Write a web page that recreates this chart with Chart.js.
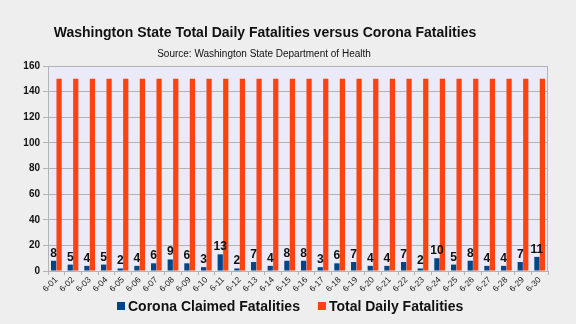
<!DOCTYPE html>
<html>
<head>
<meta charset="utf-8">
<script src="https://cdn.jsdelivr.net/npm/chart.js@4/dist/chart.umd.min.js"></script>
<style>
  html, body { margin: 0; padding: 0; background: #eeeeee; }
  #wrap { width: 576px; height: 324px; position: relative; }
</style>
</head>
<body>
<div id="wrap"><canvas id="c" width="576" height="324"></canvas></div>
<script>
// ===== Data =====
var days = ["6-01","6-02","6-03","6-04","6-05","6-06","6-07","6-08","6-09","6-10",
  "6-11","6-12","6-13","6-14","6-15","6-16","6-17","6-18","6-19","6-20",
  "6-21","6-22","6-23","6-24","6-25","6-26","6-27","6-28","6-29","6-30"];
var coronaDeaths = [8,5,4,5,2,4,6,9,6,3,13,2,7,4,8,8,3,6,7,4,4,7,2,10,5,8,4,4,7,11];
var totalDeaths = [150,150,150,150,150,150,150,150,150,150,150,150,150,150,150,
  150,150,150,150,150,150,150,150,150,150,150,150,150,150,150];

var titleText = "Washington State Total Daily Fatalities versus Corona Fatalities";
var subtitleText = "Source: Washington State Department of Health";
var seriesNames = ["Corona Claimed Fatalities", "Total Daily Fatalities"];
var seriesColors = ["#004586", "#ff420e"];

var FONT = "'Liberation Sans', Arial, sans-serif";
var GRID = "#b3b3b3";

// plot area background + frame
var plotBg = {
  id: "plotBg",
  beforeDraw: function(chart) {
    var a = chart.chartArea, ctx = chart.ctx;
    ctx.save();
    ctx.fillStyle = "#eaeaf8";
    ctx.fillRect(a.left, a.top, a.right - a.left, a.bottom - a.top);
    ctx.restore();
  },
  afterDraw: function(chart) {
    var a = chart.chartArea, ctx = chart.ctx;
    ctx.save();
    ctx.strokeStyle = GRID;
    ctx.lineWidth = 1;
    ctx.strokeRect(a.left + 0.5, a.top + 0.5, a.right - a.left - 1, a.bottom - a.top);
    ctx.restore();
  }
};

// value labels above the corona bars
var valueLabels = {
  id: "valueLabels",
  afterDatasetsDraw: function(chart) {
    var ctx = chart.ctx;
    var meta = chart.getDatasetMeta(0);
    ctx.save();
    ctx.font = "bold 12px " + FONT;
    ctx.fillStyle = "#111111";
    ctx.textAlign = "center";
    ctx.textBaseline = "alphabetic";
    meta.data.forEach(function(bar, i) {
      ctx.fillText(String(coronaDeaths[i]), bar.x, bar.y - 4);
    });
    ctx.restore();
  }
};

// titles and legend, placed like the original (title is left of centre)
var headerLegend = {
  id: "headerLegend",
  afterDraw: function(chart) {
    var ctx = chart.ctx;
    ctx.save();
    ctx.fillStyle = "#111111";
    ctx.textAlign = "center";
    ctx.textBaseline = "middle";
    ctx.font = "bold 14px " + FONT;
    ctx.fillText(titleText, 265, 33);
    ctx.font = "10px " + FONT;
    ctx.fillText(subtitleText, 264, 54);

    ctx.font = "bold 14px " + FONT;
    ctx.textAlign = "left";
    var x = 117, y = 306;
    for (var i = 0; i < seriesNames.length; i++) {
      ctx.fillStyle = seriesColors[i];
      ctx.fillRect(x, y - 4, 8, 8);
      ctx.fillStyle = "#111111";
      ctx.fillText(seriesNames[i], x + 11, y + 1);
      x += 11 + ctx.measureText(seriesNames[i]).width + 18;
    }
    ctx.restore();
  }
};

new Chart(document.getElementById("c"), {
  type: "bar",
  data: {
    labels: days,
    datasets: [
      { label: seriesNames[0], data: coronaDeaths, backgroundColor: seriesColors[0],
        categoryPercentage: 0.66, barPercentage: 0.95 },
      { label: seriesNames[1], data: totalDeaths, backgroundColor: seriesColors[1],
        categoryPercentage: 0.66, barPercentage: 0.95 }
    ]
  },
  options: {
    responsive: false,
    animation: false,
    layout: { padding: { top: 66, right: 28, bottom: 33, left: 0 } },
    scales: {
      x: {
        afterFit: function(scale) { scale.height = 20; },
        grid: { display: true, drawOnChartArea: false, color: GRID, tickLength: 4 },
        border: { color: GRID },
        ticks: {
          color: "#222222",
          font: { size: 8.5, family: FONT },
          autoSkip: false,
          maxRotation: 45, minRotation: 45,
          padding: 0
        }
      },
      y: {
        min: 0, max: 160,
        afterFit: function(scale) { scale.width = 48; },
        ticks: {
          stepSize: 20,
          color: "#111111",
          font: { size: 10, weight: "bold", family: FONT },
          padding: 3
        },
        grid: { color: GRID, drawTicks: true, tickLength: 5 },
        border: { color: GRID }
      }
    },
    plugins: {
      title: { display: false },
      legend: { display: false },
      tooltip: { enabled: false }
    }
  },
  plugins: [plotBg, valueLabels, headerLegend]
});
</script>
</body>
</html>
